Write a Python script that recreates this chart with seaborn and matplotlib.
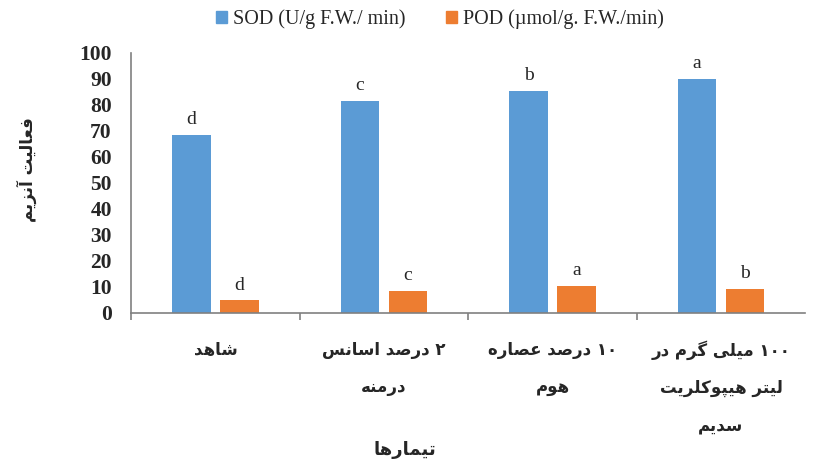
import matplotlib
matplotlib.use("Agg")
import matplotlib.pyplot as plt
import matplotlib.patches as mpatches
import seaborn as sns
import pandas as pd

# chart data
treatments = ["شاهد", "۲ درصد اسانس\nدرمنه", "۱۰ درصد عصاره\nهوم", "۱۰۰ میلی گرم در\nلیتر هیپوکلریت\nسدیم"]
sod = [68.5, 81.5, 85.5, 90.0]
pod = [4.8, 8.3, 10.5, 9.4]
sod_letters = ["d", "c", "b", "a"]
pod_letters = ["d", "c", "a", "b"]
series = ["SOD (U/g F.W./ min)", "POD (µmol/g. F.W./min)"]
colors = ["#5B9BD5", "#ED7D31"]
y_title = "فعالیت آنزیم"
x_title = "تیمارها"

# matplotlib has no arabic shaping, so pick presentation forms by hand
FORMS = {
    'ا': ('\uFE8D', '\uFE8E', None, None),
    'آ': ('\uFE81', '\uFE82', None, None),
    'ب': ('\uFE8F', '\uFE90', '\uFE91', '\uFE92'),
    'پ': ('\uFB56', '\uFB57', '\uFB58', '\uFB59'),
    'ت': ('\uFE95', '\uFE96', '\uFE97', '\uFE98'),
    'د': ('\uFEA9', '\uFEAA', None, None),
    'ر': ('\uFEAD', '\uFEAE', None, None),
    'ز': ('\uFEAF', '\uFEB0', None, None),
    'س': ('\uFEB1', '\uFEB2', '\uFEB3', '\uFEB4'),
    'ش': ('\uFEB5', '\uFEB6', '\uFEB7', '\uFEB8'),
    'ص': ('\uFEB9', '\uFEBA', '\uFEBB', '\uFEBC'),
    'ع': ('\uFEC9', '\uFECA', '\uFECB', '\uFECC'),
    'ف': ('\uFED1', '\uFED2', '\uFED3', '\uFED4'),
    'ک': ('\uFB8E', '\uFB8F', '\uFB90', '\uFB91'),
    'گ': ('\uFB92', '\uFB93', '\uFB94', '\uFB95'),
    'ل': ('\uFEDD', '\uFEDE', '\uFEDF', '\uFEE0'),
    'م': ('\uFEE1', '\uFEE2', '\uFEE3', '\uFEE4'),
    'ن': ('\uFEE5', '\uFEE6', '\uFEE7', '\uFEE8'),
    'ه': ('\uFEE9', '\uFEEA', '\uFEEB', '\uFEEC'),
    'و': ('\uFEED', '\uFEEE', None, None),
    'ی': ('\uFBFC', '\uFBFD', '\uFBFE', '\uFBFF'),
}


def shape_line(line):
    chars = [{'ي': 'ی', 'ك': 'ک'}.get(c, c) for c in line]
    out = []
    for i, c in enumerate(chars):
        if c not in FORMS:
            out.append(c)
            continue
        prev = chars[i - 1] if i > 0 else None
        nxt = chars[i + 1] if i + 1 < len(chars) else None
        jp = prev in FORMS and FORMS[prev][2] is not None
        jn = FORMS[c][2] is not None and nxt in FORMS
        f = FORMS[c]
        if jp and jn:
            out.append(f[3])
        elif jp:
            out.append(f[1])
        elif jn:
            out.append(f[2])
        else:
            out.append(f[0])
    # right-to-left, but keep digit runs left-to-right
    runs = []
    for c in out:
        d = c.isdigit()
        if runs and runs[-1][0] == d:
            runs[-1][1].append(c)
        else:
            runs.append([d, [c]])
    vis = ""
    for d, cs in reversed(runs):
        vis += "".join(cs) if d else "".join(reversed(cs))
    return vis


def fa(text):
    return "\n".join(shape_line(l) for l in text.split("\n"))


df = pd.DataFrame({
    "treatment": treatments * 2,
    "enzyme": [series[0]] * 4 + [series[1]] * 4,
    "value": sod + pod,
})

sns.set_style("white")
plt.rcParams['font.family'] = ['Liberation Serif', 'DejaVu Sans']

fig = plt.figure(figsize=(8.15, 4.63), dpi=100)
ax = fig.add_axes([0.161, 0.324, 0.827, 0.562])

sns.barplot(data=df, x="treatment", y="value", hue="enzyme", palette=colors,
            width=0.57, gap=0.2, legend=False, ax=ax, linewidth=0, saturation=1)

# significance letters
for cont, letters in zip(ax.containers, [sod_letters, pod_letters]):
    for bar, let in zip(cont, letters):
        ax.annotate(let, (bar.get_x() + bar.get_width() / 2, bar.get_height()),
                    xytext=(0, 5), textcoords="offset points", ha="center", va="bottom",
                    fontsize=14, fontfamily="Liberation Serif")

ax.set_ylim(0, 100)
ax.set_xlim(-0.5, 3.5)
ax.set_yticks(range(0, 101, 10))
ax.set_yticklabels([str(v) for v in range(0, 101, 10)], fontsize=15.5, fontweight="bold",
                   fontfamily="Liberation Serif")
ax.set_xticks(range(4))
ax.set_xticklabels([fa(t) for t in treatments], fontfamily="DejaVu Sans", fontweight="bold",
                   fontsize=12, linespacing=2.35)
ax.set_xticks([-0.5, 0.5, 1.5, 2.5], minor=True)
ax.tick_params(axis="x", which="major", length=0, pad=20)
ax.tick_params(axis="x", which="minor", bottom=True, length=5, width=1.2, color="#808080",
               direction="out")
ax.tick_params(axis="y", length=0, pad=14)
ax.set_xlabel("")
ax.set_ylabel("")

for side in ["top", "right"]:
    ax.spines[side].set_visible(False)
for side in ["left", "bottom"]:
    ax.spines[side].set_color("#808080")
    ax.spines[side].set_linewidth(1.2)

fig.text(27 / 815, 0.633, fa(y_title), rotation=90, ha="center", va="center",
         fontsize=12, fontweight="bold", fontfamily="DejaVu Sans")
fig.text(0.497, 0.028, fa(x_title), ha="center", va="center",
         fontsize=13, fontweight="bold", fontfamily="DejaVu Sans")

handles = [mpatches.Patch(color=c, label=s) for c, s in zip(colors, series)]
fig.legend(handles=handles, loc="center", bbox_to_anchor=(440 / 815, 1 - 19 / 463), ncol=2,
           frameon=False, fontsize=14.5, handlelength=0.55, handleheight=0.55,
           handletextpad=0.3, columnspacing=2.0)

plt.savefig("out.png", dpi=100)
